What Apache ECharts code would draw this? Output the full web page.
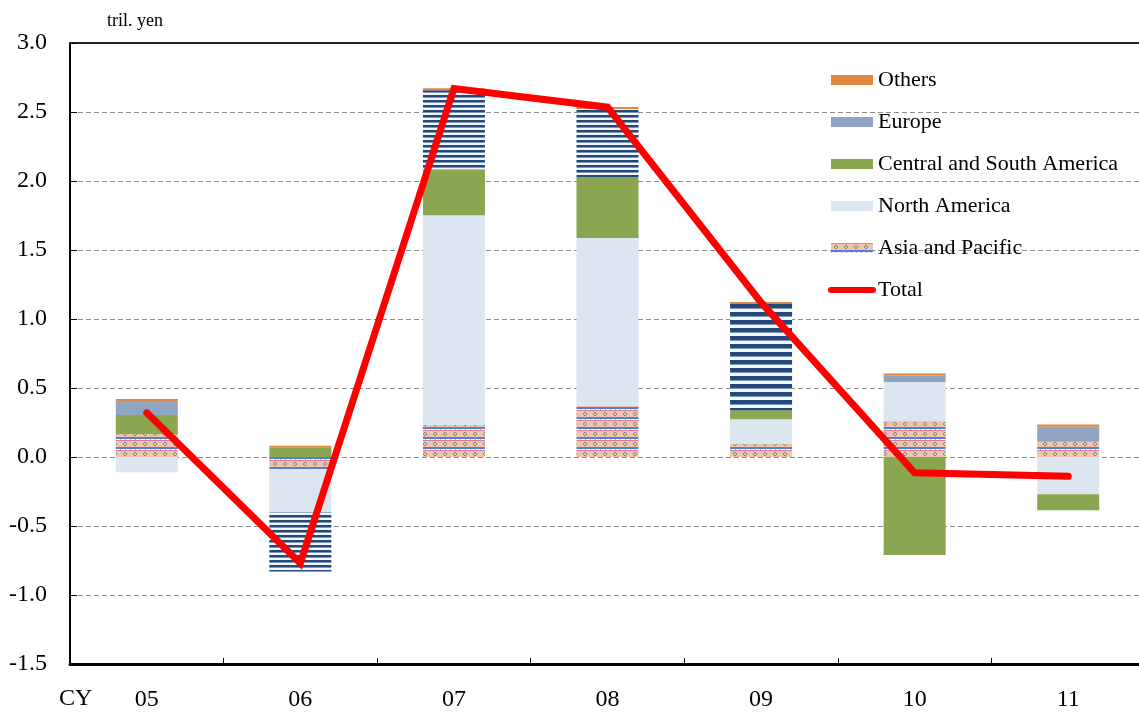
<!DOCTYPE html>
<html>
<head>
<meta charset="utf-8">
<script src="https://cdn.jsdelivr.net/npm/echarts@6/dist/echarts.min.js"></script>
<style>
html,body{margin:0;padding:0;background:#fff;}
#chart{width:1139px;height:716px;}
</style>
</head>
<body>
<div id="chart"></div>
<script>
// ---- data (trillion yen) ----
var categories = ['05', '06', '07', '08', '09', '10', '11'];
var asiaPacific = [0.167, -0.09, 0.232, 0.37, 0.094, 0.26, 0.11];
var northAmerica = [-0.11, -0.31, 1.52, 1.217, 0.18, 0.283, -0.27];
var centralSouthAmerica = [0.138, 0.07, 0.333, 0.435, 0.065, -0.71, -0.116];
var europe = [0.10, -0.43, 0.572, 0.50, 0.77, 0.05, 0.11];
var others = [0.015, 0.012, 0.015, 0.015, 0.015, 0.012, 0.015];
var total = [0.32, -0.77, 2.67, 2.535, 1.12, -0.115, -0.14];
var yTicks = { min: -1.5, max: 3.0, interval: 0.5 };

var FONT = "'Liberation Serif', 'Times New Roman', serif";

// ---- patterns ----
function makeAsiaPattern() {
  var c = document.createElement('canvas');
  c.width = 10; c.height = 10;
  var g = c.getContext('2d');
  g.fillStyle = '#F0C2B3'; g.fillRect(0, 0, 10, 10);
  g.fillStyle = '#E47C92'; g.fillRect(0, 0, 10, 1);
  g.fillStyle = '#858CA2';
  g.fillRect(4, 2, 2, 1); g.fillRect(3, 3, 4, 2); g.fillRect(4, 5, 2, 1);
  g.fillStyle = '#E6D24A'; g.fillRect(4, 3, 2, 2);
  g.fillStyle = '#4A82DA'; g.fillRect(0, 7, 10, 2);
  g.fillStyle = '#FFFFFF'; g.fillRect(0, 9, 10, 1);
  g.fillStyle = '#E9A0AE'; g.fillRect(0, 9, 1, 1); g.fillRect(5, 9, 1, 1);
  return { image: c, repeat: 'repeat' };
}
function makeStripePattern(period) {
  var c = document.createElement('canvas');
  c.width = 4; c.height = period;
  var g = c.getContext('2d');
  var dark = Math.round(period * 0.45);
  g.fillStyle = '#F3F6FA'; g.fillRect(0, 0, 4, period);
  g.fillStyle = '#23497B'; g.fillRect(0, 0, 4, dark);
  g.fillStyle = '#7C97BA'; g.fillRect(0, dark, 4, 1);
  return { image: c, repeat: 'repeat' };
}
var asiaPat = makeAsiaPattern();
var stripe5 = makeStripePattern(5);
var stripe8 = makeStripePattern(8);
var europeSolid = '#8FA5C1';
var europeItemColors = [europeSolid, stripe5, stripe5, stripe5, stripe8, europeSolid, europeSolid];

function barSeries(name, values, color, perItemColors) {
  return {
    name: name,
    type: 'bar',
    stack: 'regions',
    barWidth: 62,
    itemStyle: { color: color },
    emphasis: { disabled: true },
    data: values.map(function (v, i) {
      if (perItemColors) return { value: v, itemStyle: { color: perItemColors[i] } };
      return v;
    })
  };
}

var chart = echarts.init(document.getElementById('chart'));
chart.setOption({
  animation: false,
  backgroundColor: '#ffffff',
  grid: { left: 70, top: 43, width: 1075, height: 621, outerBoundsMode: 'none', containLabel: false },
  legend: {
    orient: 'vertical',
    left: 823,
    top: 64,
    itemWidth: 42,
    itemHeight: 10,
    itemGap: 20,
    textStyle: { fontFamily: FONT, fontSize: 22, color: '#000', lineHeight: 22 },
    data: [
      { name: 'Others', icon: 'rect' },
      { name: 'Europe', icon: 'rect', itemStyle: { color: europeSolid } },
      { name: 'Central and South America', icon: 'rect' },
      { name: 'North America', icon: 'rect' },
      { name: 'Asia and Pacific', icon: 'rect' },
      { name: 'Total', itemStyle: { opacity: 0 }, lineStyle: { width: 6, cap: 'round', color: '#FF0000' } }
    ]
  },
  xAxis: [{
    type: 'category',
    data: categories,
    boundaryGap: true,
    axisLine: { onZero: false, lineStyle: { color: '#000', width: 3 } },
    axisTick: { show: true, inside: true, length: 6, lineStyle: { color: '#000', width: 1 } },
    axisLabel: { fontFamily: FONT, fontSize: 24, color: '#000', margin: 24 },
    splitLine: { show: false }
  }, {
    type: 'category',
    data: categories,
    position: 'top',
    axisLine: { show: true, onZero: false, lineStyle: { color: '#222', width: 2 } },
    axisTick: { show: false },
    axisLabel: { show: false },
    splitLine: { show: false }
  }],
  yAxis: {
    type: 'value',
    min: yTicks.min,
    max: yTicks.max,
    interval: yTicks.interval,
    name: 'tril. yen',
    nameLocation: 'end',
    nameGap: 13,
    nameTextStyle: { fontFamily: FONT, fontSize: 18, color: '#000', align: 'left', padding: [0, 0, 0, 37] },
    axisLine: { show: true, lineStyle: { color: '#000', width: 2 } },
    axisTick: { show: true, inside: true, length: 7, lineStyle: { color: '#000' } },
    axisLabel: {
      fontFamily: FONT, fontSize: 24, color: '#000', margin: 23,
      formatter: function (v) { return v.toFixed(1); }
    },
    splitLine: { show: true, lineStyle: { color: '#8a8a8a', width: 1, type: [5, 3] } }
  },
  graphic: [{
    type: 'text',
    left: 59,
    top: 687,
    style: { text: 'CY', fontFamily: FONT, fontSize: 24, fill: '#000' }
  }],
  series: [
    barSeries('Asia and Pacific', asiaPacific, asiaPat),
    barSeries('North America', northAmerica, '#DCE6F1'),
    barSeries('Central and South America', centralSouthAmerica, '#8BA650'),
    barSeries('Europe', europe, europeSolid, europeItemColors),
    barSeries('Others', others, '#DF8640'),
    {
      name: 'Total',
      type: 'line',
      data: total,
      symbol: 'none',
      z: 5,
      lineStyle: { color: '#FF0000', width: 7, cap: 'round', join: 'miter' },
      itemStyle: { color: '#FF0000' },
      emphasis: { disabled: true }
    }
  ]
});
</script>
</body>
</html>
